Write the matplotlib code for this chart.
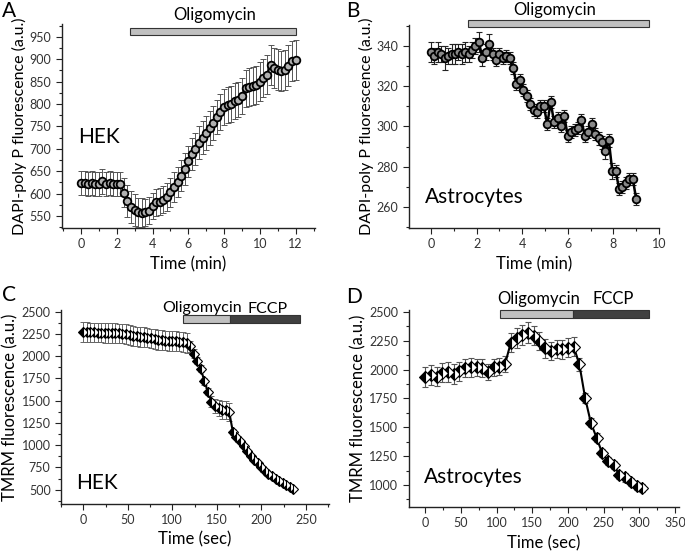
import matplotlib
matplotlib.use("Agg")
import matplotlib.pyplot as plt
from matplotlib.patches import Rectangle
from matplotlib.ticker import MultipleLocator

plt.rcParams["font.family"] = ["Lato", "DejaVu Sans"]

# Panel A - HEK, DAPI-polyP, time in min
a_time = [round(0.2 * i, 1) for i in range(61)]
a_val = [623, 623, 622, 623, 621, 622, 627, 622, 624, 621, 622, 621,
         602, 583, 570, 563, 558, 557, 558, 562, 572, 580, 582, 586,
         592, 603, 614, 626, 640, 655, 672, 688, 700, 714, 725, 735,
         746, 758, 770, 782, 793, 797, 800, 806, 810, 818, 835, 838,
         840, 843, 850, 858, 866, 887, 880, 877, 874, 876, 886, 896, 898]
a_err = [27] * 12 + [32, 35, 35, 35, 33, 32, 30, 30, 30, 30, 30, 30,
         32, 32, 33, 33, 34, 35, 35, 36, 36, 37, 37, 38, 38, 38, 38, 40,
         40, 40, 40, 40, 40, 40, 42, 42, 42, 42, 43, 43, 44, 44, 45, 45,
         45, 45, 45, 45, 45]
a_oligo = (2.74, 12.0)

# Panel B - Astrocytes, DAPI-polyP, time in min
b_time = [round(0.15 * i, 2) for i in range(61)]
b_val = [337, 335, 337, 336, 334, 335, 336, 336, 337, 336, 337, 336,
         338, 340, 342, 334, 337, 341, 336, 333, 336, 334, 335, 334,
         329, 321, 323, 318, 315, 311, 308, 307, 310, 310, 301, 312,
         302, 304, 300, 305, 295, 297, 298, 299, 303, 295, 297, 301,
         296, 294, 292, 288, 293, 278, 278, 269, 270, 272, 274, 274, 264]
b_err = [5, 4, 5, 4, 6, 4, 5, 5, 4, 5, 5, 4, 4, 4, 5, 4, 4, 5, 3, 3,
         3, 3, 3, 3, 3, 3, 3, 3, 3, 3, 3, 3, 3, 3, 3, 3, 3, 3, 3, 3,
         3, 3, 3, 3, 3, 3, 3, 3, 3, 3, 3, 4, 3, 4, 3, 3, 3, 3, 3, 3, 3]
b_oligo = (1.62, 9.57)

# Panel C - HEK, TMRM, time in sec
c_time = list(range(0, 240, 4))
c_val = [2272, 2270, 2268, 2268, 2266, 2265, 2263, 2262, 2260, 2258,
         2256, 2254, 2250, 2240, 2228, 2222, 2218, 2215, 2208, 2200,
         2192, 2185, 2180, 2176, 2172, 2170, 2168, 2165, 2160, 2150,
         2110, 2030, 1950, 1860, 1720, 1600, 1490, 1440, 1415, 1400,
         1395, 1370, 1150, 1095, 1045, 990, 930, 880, 835, 795,
         760, 715, 680, 650, 620, 595, 575, 558, 535, 510]
c_err = [110] * 30 + [60, 50, 40, 40, 40, 40, 60, 80, 90, 100,
                      100, 100, 30, 25, 20, 20, 20, 20, 15, 15,
                      15, 15, 15, 15, 15, 15, 15, 15, 15, 15]
c_oligo = (112.4, 164.8)
c_fccp = (164.8, 243.4)

# Panel D - Astrocytes, TMRM, time in sec
d_time = list(range(0, 305, 8))
d_val = [1935, 1955, 1940, 1975, 1980, 1960, 1985, 2015, 2020, 2020,
         2015, 1980, 2020, 2025, 2050, 2235, 2275, 2300, 2320, 2295,
         2250, 2185, 2160, 2180, 2175, 2190, 2200, 2045, 1755, 1540,
         1410, 1275, 1205, 1170, 1090, 1065, 1025, 990, 975]
d_err = [85, 85, 80, 80, 85, 85, 80, 80, 80, 75, 75, 70, 75, 75, 70,
         85, 90, 90, 90, 85, 80, 80, 80, 80, 80, 80, 85, 60, 40, 40,
         40, 35, 35, 35, 35, 35, 35, 35, 35]
d_oligo = (105, 207)
d_fccp = (207, 314)

fig = plt.figure(figsize=(6.85, 5.52), dpi=100)

axA = fig.add_axes([0.0905, 0.587, 0.369, 0.3696])
axB = fig.add_axes([0.5966, 0.587, 0.3654, 0.3678])
axC = fig.add_axes([0.0891, 0.0875, 0.3912, 0.3504])
axD = fig.add_axes([0.5966, 0.0815, 0.3942, 0.3569])


def style_axis(ax, xmaj, xmin, ymaj, ymin):
    for s in ["top", "right"]:
        ax.spines[s].set_visible(False)
    for s in ["left", "bottom"]:
        ax.spines[s].set_color("#222222")
        ax.spines[s].set_linewidth(1.0)
    ax.xaxis.set_major_locator(MultipleLocator(xmaj))
    ax.xaxis.set_minor_locator(MultipleLocator(xmin))
    ax.yaxis.set_major_locator(MultipleLocator(ymaj))
    ax.yaxis.set_minor_locator(MultipleLocator(ymin))
    ax.tick_params(which="both", direction="out", colors="#222222",
                   labelcolor="#333333", labelsize=9, width=0.8)
    ax.tick_params(which="major", length=4)
    ax.tick_params(which="minor", length=2.5)


def draw_bar(ax, span, y0, y1, color):
    ax.add_patch(Rectangle((span[0], y0), span[1] - span[0], y1 - y0,
                           facecolor=color, edgecolor="#333333", lw=0.8,
                           clip_on=False, zorder=5))


# A
axA.errorbar(a_time, a_val, yerr=a_err, fmt="none", ecolor="#555555",
             elinewidth=0.7, capsize=2, capthick=0.7, zorder=2)
axA.plot(a_time, a_val, "-", color="black", lw=1.5, marker="o", ms=5.5,
         mfc="#b0b0b0", mec="black", mew=1.3, zorder=3)
axA.set_xlim(-1.06, 13.07)
axA.set_ylim(523, 979)
style_axis(axA, 2, 1, 50, 25)
axA.set_xlabel("Time (min)", fontsize=12)
axA.set_ylabel("DAPI-poly P fluorescence (a.u.)", fontsize=11.5, labelpad=2)
draw_bar(axA, a_oligo, 954, 970, "#c0c0c0")
axA.text(0.439, 1.005, "Oligomycin", transform=axA.transAxes,
         ha="left", va="bottom", fontsize=12)
axA.text(0.063, 0.417, "HEK", transform=axA.transAxes, ha="left",
         va="baseline", fontsize=15)

# B
axB.errorbar(b_time, b_val, yerr=b_err, fmt="none", ecolor="#222222",
             elinewidth=0.8, capsize=2, capthick=0.8, zorder=2)
axB.plot(b_time, b_val, "-", color="black", lw=1.8, marker="o", ms=5.5,
         mfc="#8a8a8a", mec="black", mew=1.3, zorder=3)
axB.set_xlim(-0.98, 10)
axB.set_ylim(249.6, 350.3)
style_axis(axB, 2, 1, 20, 10)
axB.set_xlabel("Time (min)", fontsize=12)
axB.set_ylabel("DAPI-poly P fluorescence (a.u.)", fontsize=11.5, labelpad=2)
draw_bar(axB, b_oligo, 349.2, 352.8, "#c0c0c0")
axB.text(0.419, 1.049, "Oligomycin", transform=axB.transAxes,
         ha="left", va="baseline", fontsize=12)
axB.text(0.064, 0.123, "Astrocytes", transform=axB.transAxes, ha="left",
         va="baseline", fontsize=15)

# C
axC.errorbar(c_time, c_val, yerr=c_err, fmt="none", ecolor="#666666",
             elinewidth=0.7, capsize=2, capthick=0.7, zorder=2)
axC.plot(c_time, c_val, "-", color="black", lw=1.5, marker="D", ms=5,
         fillstyle="left", mfc="black", mfcalt="white", mec="black",
         mew=0.8, zorder=3)
axC.set_xlim(-25, 276)
axC.set_ylim(343, 2516)
style_axis(axC, 50, 25, 250, 125)
axC.set_xlabel("Time (sec)", fontsize=12)
axC.set_ylabel("TMRM fluorescence (a.u.)", fontsize=12, labelpad=2)
draw_bar(axC, c_oligo, 2373, 2460, "#c0c0c0")
draw_bar(axC, c_fccp, 2373, 2460, "#404040")
axC.text(0.377, 0.993, "Oligomycin", transform=axC.transAxes,
         ha="left", va="baseline", fontsize=11.5)
axC.text(0.694, 0.984, "FCCP", transform=axC.transAxes,
         ha="left", va="baseline", fontsize=11.5)
axC.text(0.056, 0.074, "HEK", transform=axC.transAxes, ha="left",
         va="baseline", fontsize=15)

# D
axD.errorbar(d_time, d_val, yerr=d_err, fmt="none", ecolor="#555555",
             elinewidth=0.8, capsize=2, capthick=0.8, zorder=2)
axD.plot(d_time, d_val, "-", color="black", lw=1.5, marker="D", ms=6,
         fillstyle="left", mfc="black", mfcalt="white", mec="black",
         mew=0.8, zorder=3)
axD.set_xlim(-23, 355)
axD.set_ylim(809, 2517)
style_axis(axD, 50, 25, 250, 125)
axD.set_xlabel("Time (sec)", fontsize=12)
axD.set_ylabel("TMRM fluorescence (a.u.)", fontsize=12, labelpad=2)
draw_bar(axD, d_oligo, 2448, 2521, "#c0c0c0")
draw_bar(axD, d_fccp, 2448, 2521, "#404040")
axD.text(0.327, 1.029, "Oligomycin", transform=axD.transAxes,
         ha="left", va="baseline", fontsize=12)
axD.text(0.679, 1.029, "FCCP", transform=axD.transAxes,
         ha="left", va="baseline", fontsize=12)
axD.text(0.056, 0.123, "Astrocytes", transform=axD.transAxes, ha="left",
         va="baseline", fontsize=15)

# panel letters
for lbl, x, y in [("A", 0.003, 0.998), ("B", 0.506, 0.998),
                  ("C", 0.003, 0.483), ("D", 0.505, 0.480)]:
    fig.text(x, y, lbl, ha="left", va="top", fontsize=15)

fig.savefig("out.png", dpi=100)
